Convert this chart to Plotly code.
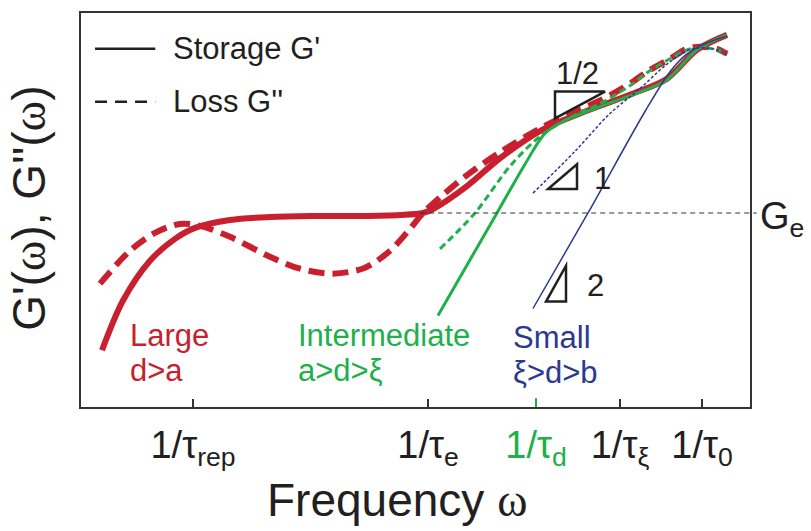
import plotly.graph_objects as go

# ---- data (x: log-frequency, arbitrary units; y: log modulus, arbitrary units) ----
tick_vals = [1.12, 3.47, 4.55, 5.39, 6.21]
tick_text = ["1/τ<sub>rep</sub>", "1/τ<sub>e</sub>",
             "<span style='color:#1db04b'>1/τ<sub>d</sub></span>",
             "1/τ<sub>ξ</sub>", "1/τ<sub>0</sub>"]

ge_level = 1.95

large_Gp_x = [0.21, 0.42, 0.69, 0.94, 1.14, 1.49, 1.89, 2.32, 2.79, 3.19, 3.42, 3.52, 3.86, 4.19, 4.62, 4.99, 5.52, 5.86, 6.16, 6.46]
large_Gp_y = [0.57, 1.07, 1.47, 1.69, 1.80, 1.88, 1.91, 1.92, 1.92, 1.93, 1.95, 1.99, 2.22, 2.50, 2.79, 2.95, 3.15, 3.30, 3.59, 3.74]

large_Gpp_x = [0.19, 0.49, 0.74, 0.99, 1.19, 1.49, 1.89, 2.19, 2.52, 2.84, 3.09, 3.29, 3.42, 3.64, 3.86, 4.19, 4.59, 4.89, 5.19, 5.49, 5.66, 5.89, 6.06, 6.19, 6.36, 6.46]
large_Gpp_y = [1.24, 1.57, 1.75, 1.84, 1.82, 1.71, 1.51, 1.39, 1.34, 1.40, 1.57, 1.79, 1.95, 2.15, 2.33, 2.56, 2.80, 2.95, 3.08, 3.25, 3.37, 3.50, 3.60, 3.62, 3.60, 3.55]

inter_Gp_x = [3.57, 4.16, 4.44, 4.64, 4.84, 5.19, 5.52, 5.86, 6.16, 6.46]
inter_Gp_y = [0.92, 1.95, 2.44, 2.75, 2.88, 3.02, 3.14, 3.29, 3.59, 3.74]

inter_Gpp_x = [3.59, 3.94, 4.29, 4.59, 4.89, 5.19, 5.49, 5.66, 5.89, 6.06, 6.19, 6.36, 6.46]
inter_Gpp_y = [1.59, 1.95, 2.42, 2.72, 2.91, 3.05, 3.23, 3.36, 3.50, 3.59, 3.61, 3.59, 3.54]

small_Gp_x = [4.52, 5.07, 5.64, 5.89, 6.06, 6.24, 6.46]
small_Gp_y = [0.99, 1.95, 2.97, 3.37, 3.55, 3.65, 3.73]

small_Gpp_x = [4.52, 4.94, 5.29, 5.59, 5.84, 6.06, 6.19, 6.36, 6.46]
small_Gpp_y = [2.15, 2.57, 2.95, 3.20, 3.43, 3.58, 3.61, 3.59, 3.54]

RED = "#c8202e"
GREEN = "#1db04b"
BLUE = "#2b3990"
INK = "#231f20"
SANS = "Liberation Sans, Arial, sans-serif"
OMEGA = "<span style='font-family:Liberation Serif'>ω</span>"

fig = go.Figure()

def add(x, y, color, width, dash):
    fig.add_trace(go.Scatter(x=x, y=y, mode="lines", showlegend=False, hoverinfo="skip",
                             line=dict(color=color, width=width, dash=dash,
                                       shape="spline", smoothing=0.9)))

add(large_Gpp_x, large_Gpp_y, RED, 6, "16px,8px")
add(large_Gp_x, large_Gp_y, RED, 6, "solid")
add(inter_Gpp_x, inter_Gpp_y, GREEN, 3, "7px,4px")
add(inter_Gp_x, inter_Gp_y, GREEN, 3, "solid")
add(small_Gpp_x, small_Gpp_y, BLUE, 1.5, "3px,2px")
add(small_Gp_x, small_Gp_y, BLUE, 1.5, "solid")

shapes = []
# plateau modulus reference line
shapes.append(dict(type="line", xref="paper", yref="y", x0=0.507, x1=1.01, y0=ge_level, y1=ge_level,
                   line=dict(color="#333333", width=1.2, dash="5px,4px")))
# green tick for 1/tau_d
shapes.append(dict(type="line", xref="x", yref="paper", x0=tick_vals[2], x1=tick_vals[2], y0=0, y1=0.022,
                   line=dict(color=GREEN, width=2)))
# slope triangles
tri = [
    "M 4.74 3.17 L 5.24 3.17 L 4.74 2.90 Z",
    "M 4.67 2.19 L 4.96 2.19 L 4.96 2.44 Z",
    "M 4.65 1.06 L 4.85 1.06 L 4.85 1.42 Z",
]
for p in tri:
    shapes.append(dict(type="path", path=p, xref="x", yref="y", line=dict(color=INK, width=2.5)))
# legend samples
shapes.append(dict(type="line", xref="paper", yref="paper", x0=0.021, x1=0.111, y0=0.909, y1=0.909,
                   line=dict(color=INK, width=2.5)))
shapes.append(dict(type="line", xref="paper", yref="paper", x0=0.021, x1=0.111, y0=0.775, y1=0.775,
                   line=dict(color=INK, width=2.5, dash="12px,8px")))

ann = []
def txt(x, y, s, size, color=INK, xref="x", yref="y", xanchor="left", yanchor="middle", angle=0):
    ann.append(dict(x=x, y=y, text=s, xref=xref, yref=yref, showarrow=False, xanchor=xanchor,
                    yanchor=yanchor, textangle=angle, font=dict(size=size, color=color, family=SANS)))

txt(0.135, 0.909, "Storage G'", 31, xref="paper", yref="paper")
txt(0.135, 0.775, "Loss G''", 31, xref="paper", yref="paper")
txt(0.47, 0.72, "Large", 31, RED)
txt(0.47, 0.37, "d>a", 31, RED)
txt(2.15, 0.72, "Intermediate", 31, GREEN)
txt(2.15, 0.37, "a>d>ξ", 31, GREEN)
txt(4.30, 0.70, "Small", 31, BLUE)
txt(4.30, 0.35, "ξ>d>b", 31, BLUE)
txt(4.96, 3.35, "1/2", 31, xanchor="center")
txt(5.11, 2.30, "1", 31)
txt(5.04, 1.22, "2", 31)
txt(1.012, ge_level - 0.06, "G<sub>e</sub>", 38, xref="paper")
txt(0.472, -0.235, "Frequency " + OMEGA, 46, xref="paper", yref="paper", xanchor="center")
txt(-0.078, 0.505, "G'(" + OMEGA + "), G''(" + OMEGA + ")",
    46, xref="paper", yref="paper", xanchor="center", angle=-90)

fig.update_layout(
    width=811, height=531,
    margin=dict(l=81, r=61, t=11, b=124),
    paper_bgcolor="white", plot_bgcolor="white",
    shapes=shapes, annotations=ann,
    xaxis=dict(range=[0, 6.69], tickvals=tick_vals, ticktext=tick_text, ticks="inside", ticklen=8,
               tickwidth=1.5, tickcolor="#333333", showgrid=False, zeroline=False,
               showline=True, mirror=True, linecolor="#333333", linewidth=1.5,
               tickfont=dict(size=38, color=INK, family=SANS), ticklabelstandoff=4),
    yaxis=dict(range=[0, 3.96], showticklabels=False, ticks="", showgrid=False, zeroline=False,
               showline=True, mirror=True, linecolor="#333333", linewidth=1.5),
)

fig.write_html("out.html")
